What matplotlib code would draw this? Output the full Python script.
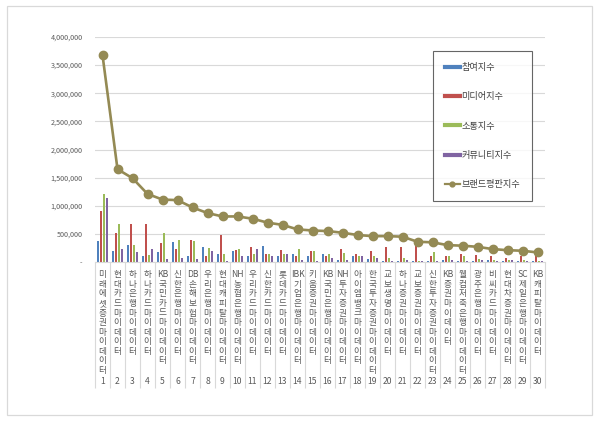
import matplotlib
matplotlib.use("Agg")
import matplotlib.pyplot as plt
import numpy as np
from matplotlib.lines import Line2D
from matplotlib.patches import Rectangle
from matplotlib.ticker import FuncFormatter, MultipleLocator

plt.rcParams['font.family'] = ['Noto Sans CJK KR', 'DejaVu Sans']

categories = [
    "미래에셋증권 마이데이터", "현대카드 마이데이터", "하나은행 마이데이터", "하나카드 마이데이터",
    "KB국민카드 마이데이터", "신한은행 마이데이터", "DB손해보험 마이데이터", "우리은행 마이데이터",
    "현대캐피탈 마이데이터", "NH농협은행 마이데이터", "우리카드 마이데이터", "신한카드 마이데이터",
    "롯데카드 마이데이터", "IBK기업은행 마이데이터", "키움증권 마이데이터", "KB국민은행 마이데이터",
    "NH투자증권 마이데이터", "아이엠뱅크 마이데이터", "한국투자증권 마이데이터", "교보생명 마이데이터",
    "하나증권 마이데이터", "교보증권 마이데이터", "신한투자증권 마이데이터", "KB증권 마이데이터",
    "웰컴저축은행 마이데이터", "광주은행 마이데이터", "비씨카드 마이데이터", "현대차증권 마이데이터",
    "SC제일은행 마이데이터", "KB캐피탈 마이데이터",
]
ranks = list(range(1, 31))

participation = [370000, 200000, 300000, 110000, 170000, 350000, 110000, 270000, 150000, 200000,
                 110000, 280000, 100000, 150000, 100000, 140000, 40000, 100000, 50000, 10000,
                 10000, 10000, 10000, 40000, 10000, 20000, 40000, 10000, 10000, 10000]
media = [910000, 510000, 680000, 680000, 330000, 230000, 400000, 110000, 480000, 220000,
         260000, 140000, 220000, 100000, 200000, 100000, 230000, 140000, 190000, 270000,
         260000, 330000, 110000, 110000, 140000, 120000, 110000, 70000, 110000, 100000]
communication = [1210000, 670000, 300000, 120000, 520000, 390000, 370000, 250000, 140000, 230000,
                 140000, 140000, 140000, 240000, 200000, 140000, 160000, 100000, 110000, 70000,
                 70000, 20000, 170000, 110000, 110000, 50000, 30000, 40000, 30000, 10000]
community = [1140000, 230000, 170000, 240000, 50000, 80000, 50000, 200000, 10000, 110000,
             230000, 110000, 140000, 40000, 20000, 80000, 30000, 100000, 70000, 20000,
             40000, 10000, 10000, 30000, 10000, 40000, 20000, 30000, 10000, 10000]
brand = [3680000, 1650000, 1490000, 1210000, 1110000, 1100000, 970000, 870000, 810000, 810000,
         770000, 700000, 660000, 580000, 560000, 550000, 520000, 480000, 460000, 460000,
         450000, 360000, 350000, 300000, 290000, 270000, 230000, 210000, 200000, 170000]

series_names = ["참여지수", "미디어지수", "소통지수", "커뮤니티지수", "브랜드평판지수"]
colors = ["#4F81BD", "#C0504D", "#9BBB59", "#8064A2", "#948A54"]

W, H = 600, 423
fig = plt.figure(figsize=(W / 100, H / 100), dpi=100)
fig.patches.append(Rectangle((7 / W, 1 - 415 / H), (592 - 7) / W, (415 - 6) / H,
                             transform=fig.transFigure, fill=False, edgecolor="#D9D9D9", lw=0.9))

ax = fig.add_axes([95 / W, 1 - 262 / H, (545 - 95) / W, (262 - 37) / H])

x = np.arange(len(categories))
bw = 0.16
step = 0.19
bar_series = [participation, media, communication, community]
for k, vals in enumerate(bar_series):
    ax.bar(x + (k - 1.5) * step, vals, width=bw, color=colors[k], zorder=2)

ax.plot(x, brand, color=colors[4], lw=1.9, marker="o", markersize=6,
        markerfacecolor=colors[4], markeredgecolor=colors[4], zorder=3)

ax.set_ylim(0, 4000000)
ax.set_xlim(-0.5, len(categories) - 0.5)
ax.yaxis.set_major_locator(MultipleLocator(500000))
ax.yaxis.set_major_formatter(FuncFormatter(lambda v, p: "-" if v == 0 else f"{int(v):,}"))
ax.grid(axis="y", color="#D9D9D9", lw=0.8, zorder=0)
ax.set_axisbelow(True)
for s in ["top", "right", "left"]:
    ax.spines[s].set_visible(False)
ax.spines["bottom"].set_color("#D9D9D9")
ax.tick_params(axis="y", length=0, labelsize=5.2, labelcolor="#595959", pad=9)


def stack(label):
    lines = []
    buf = ""
    for ch in label:
        if ch == " ":
            continue
        if ch.isascii():
            buf += ch
        else:
            if buf:
                lines.append(buf)
                buf = ""
            lines.append(ch)
    if buf:
        lines.append(buf)
    return "\n".join(lines)


ax.set_xticks(x)
ax.set_xticklabels([stack(c) for c in categories], fontsize=6.2, color="#595959",
                   va="top", linespacing=1.08)
ax.tick_params(axis="x", which="major", length=0, pad=6)
ax.set_xticks(np.arange(-0.5, len(categories)), minor=True)
ax.tick_params(axis="x", which="minor", length=91, color="#D9D9D9", width=0.8, direction="out")

for i, r in enumerate(ranks):
    ax.text(x[i], -0.533, str(r), transform=ax.get_xaxis_transform(), ha="center", va="center",
            fontsize=6.2, color="#595959")

handles = [Line2D([0], [0], color=colors[k], lw=3) for k in range(4)]
handles.append(Line2D([0], [0], color=colors[4], lw=1.6, marker="o", markersize=3.5))
leg = fig.legend(handles, series_names, loc="upper left",
                 bbox_to_anchor=(433 / W, 1 - 51 / H), fontsize=6.6, frameon=True,
                 fancybox=False, edgecolor="#404040", labelspacing=2.22, handlelength=1.64,
                 handletextpad=0.15, borderpad=1.3, borderaxespad=0)
leg.get_frame().set_linewidth(0.8)
for t in leg.get_texts():
    t.set_color("#404040")

fig.savefig("out.png", dpi=100)
